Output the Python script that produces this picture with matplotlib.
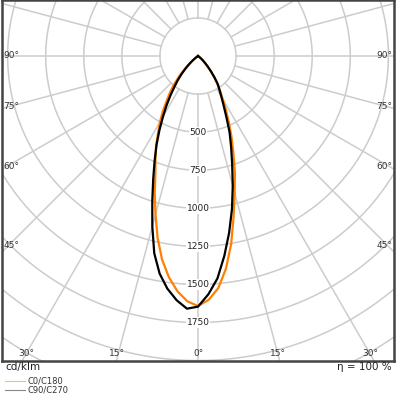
import numpy as np
import matplotlib.pyplot as plt
from matplotlib.lines import Line2D

# gamma angles (deg) and luminous intensity (cd/klm) for each half plane
gamma = [0, 2.5, 5, 7.5, 10, 12.5, 15, 17.5, 20, 22.5, 25, 27.5, 30,
         32.5, 35, 37.5, 40, 42.5, 45, 47.5, 50, 55, 60, 90]
c0 = [1642, 1603, 1530, 1408, 1254, 1080, 930, 806, 680, 576, 478, 395, 323,
      268, 218, 170, 130, 95, 65, 45, 30, 10, 0, 0]
c180 = [1642, 1612, 1551, 1465, 1358, 1225, 1078, 945, 818, 730, 651, 568, 499,
        430, 358, 302, 247, 190, 135, 90, 55, 15, 0, 0]
c90 = [1646, 1566, 1466, 1324, 1178, 1030, 882, 746, 636, 542, 440, 363, 305,
       262, 228, 180, 135, 98, 68, 46, 30, 10, 0, 0]
c270 = [1646, 1661, 1610, 1541, 1451, 1327, 1159, 998, 860, 744, 645, 548, 460,
        384, 315, 253, 205, 158, 113, 76, 47, 15, 0, 0]

ring_labels = [500, 750, 1000, 1250, 1500, 1750]
side_labels = ['90°', '75°', '60°', '45°']
side_y = [0.845, 0.704, 0.540, 0.319]
bottom_labels = ['30°', '15°', '0°', '15°', '30°']
bottom_x = [0.061, 0.293, 0.5, 0.704, 0.939]


def curve(left, right):
    g = np.radians(np.array(gamma))
    th = np.concatenate([-g[:0:-1], g])
    r = np.concatenate([np.array(left)[:0:-1], np.array(right)])
    return r * np.sin(th), -r * np.cos(th)


fig = plt.figure(figsize=(3.96, 3.96), dpi=100)
ax = fig.add_axes([2 / 396, 35 / 396, 392 / 396, 361 / 396])
ax.set_xlim(-1287, 1287)
ax.set_ylim(-2003, 368)

grid_c = '#cccccc'
t = np.linspace(0, 2 * np.pi, 400)
for rr in np.arange(250, 3001, 250):
    ax.plot(rr * np.sin(t), rr * np.cos(t), color=grid_c, lw=1.1, zorder=1)
for a in np.radians(np.arange(0, 360, 15)):
    ax.plot([250 * np.sin(a), 3000 * np.sin(a)], [-250 * np.cos(a), -3000 * np.cos(a)],
            color=grid_c, lw=1.1, zorder=1)

x, y = curve(c180, c0)
ax.plot(x, y, color='#ff8000', lw=1.6, zorder=3)
x, y = curve(c270, c90)
ax.plot(x, y, color='black', lw=1.6, zorder=4)

for v in ring_labels:
    ax.text(0, -v, str(v), ha='center', va='center', fontsize=6.5, color='#222222', zorder=5,
            bbox=dict(facecolor='white', edgecolor='none', pad=0.6))

for lab, yy in zip(side_labels, side_y):
    ax.text(0.004, yy, lab, transform=ax.transAxes, ha='left', va='center', fontsize=6.5, color='#333333')
    ax.text(0.996, yy, lab, transform=ax.transAxes, ha='right', va='center', fontsize=6.5, color='#333333')
for lab, xx in zip(bottom_labels, bottom_x):
    ax.text(xx, 0.022, lab, transform=ax.transAxes, ha='center', va='center', fontsize=6.5, color='#333333')

ax.set_xticks([])
ax.set_yticks([])
for s in ax.spines.values():
    s.set_color('#444444')
    s.set_linewidth(1.8)

fig.text(5 / 396, 1 - 367 / 396, 'cd/klm', ha='left', va='center', fontsize=7.5, color='#222222')
fig.text(392 / 396, 1 - 367 / 396, 'η = 100 %', ha='right', va='center', fontsize=7.5, color='#222222')
fig.add_artist(Line2D([5 / 396, 25 / 396], [1 - 381 / 396] * 2, color='#ffb870', lw=0.8))
fig.add_artist(Line2D([5 / 396, 25 / 396], [1 - 390 / 396] * 2, color='#888888', lw=0.8))
fig.text(28 / 396, 1 - 381 / 396, 'C0/C180', ha='left', va='center', fontsize=6, color='#333333')
fig.text(28 / 396, 1 - 390 / 396, 'C90/C270', ha='left', va='center', fontsize=6, color='#333333')

fig.savefig('out.png', dpi=100)
